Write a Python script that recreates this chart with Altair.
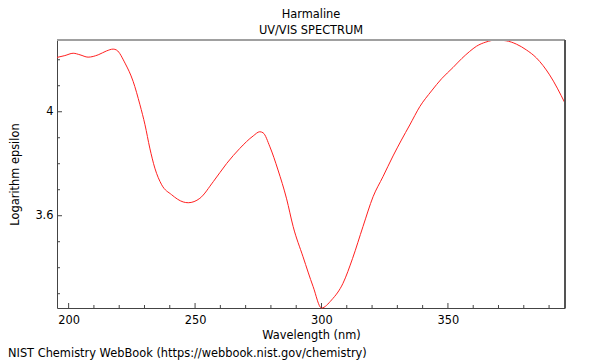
import altair as alt
import pandas as pd

wavelength = [195.4, 198.5, 201.8, 204.5, 207.7, 211.7, 215.0, 217.6, 219.0, 222.3,
              225.5, 228.2, 230.2, 232.1, 234.1, 236.8, 240.7, 245.3, 247.3, 251.9,
              257.2, 262.5, 267.7, 273.0, 275.6, 276.9, 279.6, 282.8, 286.2, 288.8,
              292.7, 296.7, 300.0, 304.0, 308.5, 312.3, 316.4, 320.4, 324.3, 328.3,
              331.6, 334.9, 338.9, 343.5, 347.5, 352.0, 355.5, 358.6, 361.3, 365.0,
              369.2, 373.0, 377.1, 381.0, 385.0, 390.2, 396.3]
log_eps = [4.209, 4.216, 4.225, 4.219, 4.210, 4.219, 4.234, 4.241, 4.237, 4.187,
           4.117, 4.027, 3.950, 3.860, 3.783, 3.719, 3.681, 3.653, 3.650, 3.667,
           3.731, 3.801, 3.859, 3.907, 3.923, 3.919, 3.865, 3.776, 3.665, 3.558,
           3.442, 3.327, 3.245, 3.276, 3.340, 3.436, 3.558, 3.673, 3.750, 3.830,
           3.891, 3.949, 4.020, 4.080, 4.127, 4.170, 4.205, 4.232, 4.252, 4.268,
           4.276, 4.273, 4.260, 4.238, 4.207, 4.142, 4.033]

x_major = [200, 250, 300, 350]
x_minor = [210, 220, 230, 240, 260, 270, 280, 290, 310, 320, 330, 340, 360, 370, 380, 390]
y_major = [3.6, 4.0]
y_minor = [3.3, 3.4, 3.5, 3.7, 3.8, 3.9, 4.1, 4.2]

title_lines = ["Harmaline", "UV/VIS SPECTRUM"]
footer = "NIST Chemistry WebBook (https://webbook.nist.gov/chemistry)"

W, H = 508, 268
FONT = "DejaVu Sans"
FS = 11.4
AX = "#444444"

df = pd.DataFrame({"wl": wavelength, "le": log_eps})
xs = alt.Scale(domain=[min(wavelength), max(wavelength)], nice=False, zero=False)
ys = alt.Scale(domain=[min(log_eps), max(log_eps)], nice=False, zero=False)

x_enc = alt.X("wl:Q", scale=xs, title="Wavelength (nm)",
              axis=alt.Axis(values=x_major, ticks=False, grid=False, domainColor=AX,
                            labelFont=FONT, labelFontSize=FS, labelColor="#000",
                            labelPadding=6, titleFont=FONT, titleFontSize=FS,
                            titleFontWeight="normal", titleColor="#000", titlePadding=4))
y_enc = alt.Y("le:Q", scale=ys, title="Logarithm epsilon",
              axis=alt.Axis(values=y_major, ticks=False, grid=False, domainColor=AX,
                            labelExpr="datum.value == 4 ? '4' : format(datum.value, '.1f')",
                            labelFont=FONT, labelFontSize=FS, labelColor="#000",
                            labelPadding=4, titleFont=FONT, titleFontSize=FS,
                            titleFontWeight="normal", titleColor="#000", titlePadding=14))

line = alt.Chart(df).mark_line(color="#ff2020", strokeWidth=1, interpolate="monotone").encode(
    x=x_enc, y=y_enc)

def xt(vals, size):
    d = pd.DataFrame({"wl": vals})
    return alt.Chart(d).mark_rule(color=AX, strokeWidth=1).encode(
        x=alt.X("wl:Q", scale=xs), y=alt.value(H), y2=alt.value(H - size))

def yt(vals, size):
    d = pd.DataFrame({"le": vals})
    return alt.Chart(d).mark_rule(color=AX, strokeWidth=1).encode(
        y=alt.Y("le:Q", scale=ys), x=alt.value(0), x2=alt.value(size))

top_border = alt.Chart(df).mark_rule(color="#a0a0a0", strokeWidth=2).encode(
    x=alt.value(0), x2=alt.value(W), y=alt.value(0))
right_border = alt.Chart(df).mark_rule(color="#555555", strokeWidth=1).encode(
    x=alt.value(W), y=alt.value(0), y2=alt.value(H))

foot = alt.Chart(pd.DataFrame({"t": [footer]})).mark_text(
    align="left", baseline="alphabetic", font=FONT, fontSize=FS, color="#000").encode(
    text="t:N", x=alt.value(-49), y=alt.value(317))

chart = alt.layer(
    line, xt(x_major, 5), xt(x_minor, 3), yt(y_major, 5), yt(y_minor, 3),
    top_border, right_border, foot
).properties(
    width=W, height=H,
    title=alt.TitleParams(title_lines, anchor="middle", font=FONT, fontSize=FS,
                          fontWeight="normal", color="#000", lineHeight=16, offset=2),
    autosize=alt.AutoSizeParams(type="none"),
    padding={"left": 49, "top": 32, "right": 27, "bottom": 52},
).configure_view(stroke=None)

chart.save("out.html", embed_options={"renderer": "svg", "actions": False})
